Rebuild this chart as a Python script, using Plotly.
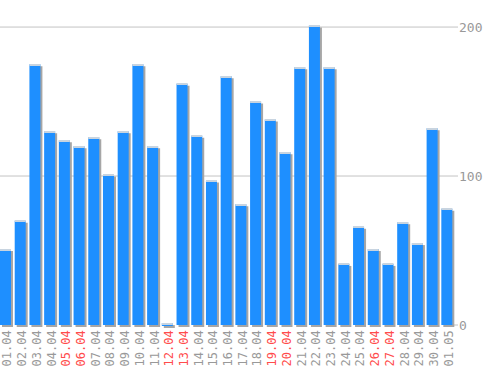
import plotly.graph_objects as go

dates = ["01.04","02.04","03.04","04.04","05.04","06.04","07.04","08.04","09.04","10.04",
         "11.04","12.04","13.04","14.04","15.04","16.04","17.04","18.04","19.04","20.04",
         "21.04","22.04","23.04","24.04","25.04","26.04","27.04","28.04","29.04","30.04","01.05"]
values = [51, 70, 175, 130, 124, 120, 126, 101, 130, 175,
          120, 1.3, 162, 127, 97, 167, 81, 150, 138, 116,
          173, 201, 173, 41, 66, 51, 41, 69, 55, 132, 78]
weekend = ["05.04","06.04","12.04","13.04","19.04","20.04","26.04","27.04"]
ytick_vals = [0, 100, 200]
grid_vals = [100, 200]

x = list(range(len(dates)))
px_per_unit_y = 1.49
shadow_dy = 2 / px_per_unit_y
hl_h = 1 / px_per_unit_y
bar_w = 0.748
shadow_dx = 2 / 14.71

ticktext = [f'<span style="color:#ff4c4c">{d}</span>' if d in weekend else d for d in dates]
tickpos = [i + shadow_dx for i in x]

fig = go.Figure()
fig.add_trace(go.Bar(x=x, y=values, base=[-shadow_dy]*len(values), width=bar_w,
                     offset=-bar_w/2 + shadow_dx, marker=dict(color="#a6a6a6", line=dict(width=0)),
                     hoverinfo="skip"))
fig.add_trace(go.Bar(x=x, y=values, width=bar_w, offset=-bar_w/2,
                     marker=dict(color="#1e8fff", line=dict(width=0))))
fig.add_trace(go.Bar(x=x, y=[hl_h]*len(values), base=[v - hl_h for v in values], width=bar_w,
                     offset=-bar_w/2, marker=dict(color="#c8d4e0", line=dict(width=0)),
                     hoverinfo="skip"))

for g in grid_vals:
    fig.add_shape(type="line", xref="paper", yref="y", x0=0, x1=1, y0=g, y1=g,
                  line=dict(color="#c4c4c4", width=1), layer="below")
fig.add_shape(type="line", xref="paper", yref="y", x0=0.99, x1=1, y0=0, y1=0,
              line=dict(color="#c4c4c4", width=1), layer="below")

fig.update_layout(
    width=498, height=370,
    margin=dict(l=0, r=40, t=5, b=42),
    paper_bgcolor="white", plot_bgcolor="white",
    barmode="overlay", showlegend=False,
    font=dict(family="DejaVu Sans Mono", color="#999999", size=12),
    xaxis=dict(range=[-0.374, 30.76], tickmode="array", tickvals=tickpos, ticktext=ticktext,
               tickangle=-90, showgrid=False, zeroline=False, showline=False, ticks="",
               ticklabeloverflow="allow", ticklabelstandoff=-1, automargin=False,
               tickfont=dict(size=12, color="#999999", family="DejaVu Sans Mono")),
    yaxis=dict(range=[-2.01, 214.8], side="right", tickmode="array", tickvals=ytick_vals,
               showgrid=False, zeroline=False, showline=False, ticks="", automargin=False,
               tickfont=dict(size=13, color="#999999", family="DejaVu Sans Mono")),
)

fig.write_html("out.html")
